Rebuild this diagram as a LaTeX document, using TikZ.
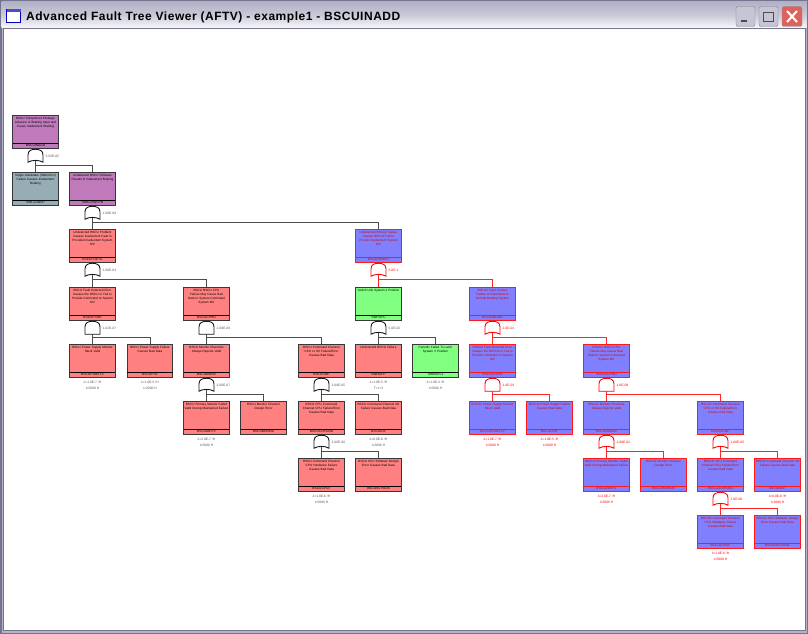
\documentclass[tikz,border=0pt]{standalone}
\usepackage{fontspec}
\setmainfont{Liberation Sans}
\newfontfamily\wintitle[LetterSpace=4.3]{Liberation Sans}
\usetikzlibrary{calc}
\definecolor{evred}{HTML}{FF8080}
\definecolor{evblue}{HTML}{8080FF}
\definecolor{evgreen}{HTML}{80FF80}
\definecolor{evpurple}{HTML}{C07ABC}
\definecolor{evgrey}{HTML}{97ADB5}
\definecolor{framedark}{HTML}{74748E}
\definecolor{framelight}{HTML}{B2B2C8}
\definecolor{closered}{HTML}{DC625C}
\tikzset{
  evbox/.style={draw=black!78,line width=1.1pt,minimum width=45.5,minimum height=33.5,inner sep=0,outer sep=0},
  evtitle/.style={anchor=north,yshift=-1.6,inner sep=0,text width=46,align=center,font=\fontsize{3.1}{4.1}\selectfont},
  evid/.style={anchor=south,inner sep=0,minimum width=45.5,minimum height=5.5,font=\fontsize{3.3}{4}\selectfont},
  redev/.style={fill=evred},
  blueev/.style={fill=evblue,draw=red!90,text=red!80!black},
  greenev/.style={fill=evgreen},
  purpleev/.style={fill=evpurple},
  greyev/.style={fill=evgrey},
  wire/.style={draw=black!70,line width=0.9pt},
  gatel/.style={draw=black!90,fill=white,line width=0.9pt},
  gatelab/.style={anchor=west,inner sep=0,text=black!65,font=\fontsize{3.3}{4}\selectfont},
  rate/.style={inner sep=0,text=black!65,font=\fontsize{3.3}{4}\selectfont},
  redon/.style={draw=red,text=red},
}
% one event: name, centre x, top y, colours, text, id
\newcommand{\ftevent}[6]{
  \node[evbox,#4] (#1) at (#2-0.5,#3+17) {};
  \node[evtitle,#4,draw=none,fill=none] (#1t) at (#1.north) {#5};
  \node[evid,#4,draw=none,fill=none] (#1i) at (#1.south) {#6};
  \draw[#4,fill=none,line width=0.6pt] (#1i.north west) -- (#1i.north east);
}
% rates below a basic event
\newcommand{\ftrate}[4]{
  \node[rate,#4] (#1r) at ($(#1.south)+(0,5)$) {#2};
  \node[rate,#4] (#1h) at ($(#1.south)+(0,10.5)$) {#3};
}
\newcommand{\ftwire}[3]{
  \draw[wire,#3] (#1.south) -- ($(#1.south)+(0,17)$) -| (#2.north);
}
\newcommand{\orgate}[4]{
  \coordinate (#1) at (#2.south);
  \draw[gatel,#3] ($(#1)+(-7.5,13.5)$) -- ($(#1)+(-7.5,6)$) .. controls ($(#1)+(-7.5,2)$) and ($(#1)+(-4,0.5)$) .. ($(#1)+(0,0.5)$) .. controls ($(#1)+(4,0.5)$) and ($(#1)+(7.5,2)$) .. ($(#1)+(7.5,6)$) -- ($(#1)+(7.5,13.5)$) .. controls ($(#1)+(4,11)$) and ($(#1)+(-4,11)$) .. cycle;
  \node[gatelab,#3,draw=none] (#1l) at ($(#1)+(10,8)$) {#4};
}
\newcommand{\andgate}[4]{
  \coordinate (#1) at (#2.south);
  \draw[gatel,#3] ($(#1)+(-7.5,13.5)$) -- ($(#1)+(-7.5,6)$) .. controls ($(#1)+(-7.5,2)$) and ($(#1)+(-4,0.5)$) .. ($(#1)+(0,0.5)$) .. controls ($(#1)+(4,0.5)$) and ($(#1)+(7.5,2)$) .. ($(#1)+(7.5,6)$) -- ($(#1)+(7.5,13.5)$) -- cycle;
  \node[gatelab,#3,draw=none] (#1l) at ($(#1)+(10,8)$) {#4};
}
\begin{document}
\begin{tikzpicture}[x=1pt,y=-1pt]
  \useasboundingbox (0,0) rectangle (808,634);
  % window
  \fill[framedark] (0,0) rectangle (808,634);
  \fill[framelight] (1.5,1.5) rectangle (806.5,632.5);
  \shade[top color=framelight,bottom color=white!92!framelight,middle color=framelight!70] (1.5,2) rectangle (806.5,28);
  \fill[framedark] (3,28) rectangle (805.5,631);
  \fill[white] (4,29) rectangle (804.5,630);
  \node[anchor=west,inner sep=0,font=\wintitle\bfseries\fontsize{12}{14}\selectfont,text=black] (wintext) at (26,17) {Advanced Fault Tree Viewer (AFTV) - example1 - BSCUINADD};
  \draw[blue!70!black,fill=white,line width=0.8pt] (6.5,9.5) rectangle (20.5,22);
  \fill[blue!70!black!70] (6.5,9.5) rectangle (20.5,12);
  \draw[black!50,fill=framelight!75,rounded corners=2pt] (736,6.5) rectangle (755,26.5);
  \draw[black!50,fill=framelight!75,rounded corners=2pt] (759,6.5) rectangle (778,26.5);
  \draw[black!40,fill=closered,rounded corners=2pt] (782,6.5) rectangle (802,26.5);
  \fill[black!70] (741,20) rectangle (747,22);
  \draw[black!70,line width=1pt] (763.5,12.5) rectangle (773.5,22);
  \draw[white,line width=2pt] (787,11) -- (797,22) (797,11) -- (787,22);
  % events, left part
  \ftevent{root}{36}{115}{purpleev}{BSCU Component Package\\Advance of Braking Input and\\Cause Inadvertent Braking}{BSCUINADD}
  \ftevent{swcl}{36}{172}{greyev}{Single Autobrake (SBU/SCU)\\Failure Causes Inadvertent\\Braking}{SWCLUNDP}
  \ftevent{swtp}{93}{172}{purpleev}{Undetected BSCU Software\\Results in Inadvertent Braking}{SWCLSWTPB}
  \ftevent{fdet}{93}{229}{redev}{Undetected BSCU Problem\\Causes Inadvertent Fault in\\Provided Inadvertent System\\MV}{BSCUFDETD}
  \ftevent{fshd}{93}{287}{redev}{BSCU Fault Detected Error\\Causes the BSCU to Fail to\\Provide Command to System\\MV}{BSCUFSHD}
  \ftevent{cphd}{207}{287}{redev}{BSCU BSCU CPU\\Failure May Cause Bad\\Data to System Command\\System MV}{BSCUCPHD}
  \ftevent{psmv}{93}{344}{redev}{BSCU Power Supply Monitor\\Stuck Valid}{BSCUPSMSTV}
  \ftevent{psf}{150.5}{344}{redev}{BSCU Power Supply Failure\\Causes Bad Data}{BSCUPSF}
  \ftevent{monv}{207}{344}{redev}{BSCU Monitor Channels\\Always Reports Valid}{BSCUMONV}
  \ftevent{cmf}{322}{344}{redev}{BSCU Command Channel\\CPU or I/O Failure/Error\\Causes Bad Data}{BSCUCMF}
  \ftevent{mcfv}{207}{401}{redev}{BSCU Primary Monitor Failed\\Valid During Maintained Failure}{BSCUMCFV}
  \ftevent{mode}{264}{401}{redev}{BSCU Monitor Channel\\Design Error}{BSCUMONDE}
  \ftevent{cpbd}{322}{401}{redev}{BSCU CPU Command\\Channel CPU Failure/Error\\Causes Bad Data}{BSCUCOPUBD}
  \ftevent{iof}{379}{401}{redev}{BSCU Command Channel I/O\\Failure Causes Bad Data}{BSCUIOF}
  \ftevent{cpuf}{322}{458}{redev}{BSCU Command Channel\\CPU Hardware Failure\\Causes Bad Data}{BSCUCPUF}
  \ftevent{scde}{379}{458}{redev}{BSCU CPU Software Design\\Error Causes Bad Data}{BSCUSCPUDE}
  % events, middle part
  \ftevent{swfd}{379}{229}{blueev}{Undetected BSCU2 Failure\\Causes BSCU2 Fail to\\Provide Inadvertent System\\MV}{BSCU2SWFD}
  \ftevent{swfo}{379}{287}{greenev}{Switch Unit System 2 Position}{SWFOFC}
  \ftevent{swdu}{379}{344}{redev}{Undetected BSCU Failure}{SWDUFP}
  \ftevent{swsa}{436}{344}{greenev}{Periodic Failed To Latch\\System 2 Position}{SWSAFL1}
  % events, right part
  \ftevent{bcmd}{493}{287}{blueev}{BSCU2 Fault Causes\\Failure to Command to\\Normal Braking System}{BSCU2BCMD}
  \ftevent{bfsh}{493}{344}{blueev}{BSCU2 Fault Detected Error\\Causes the BSCU2 to Fail to\\Provide Command to System\\MV}{BSCU2FSHD}
  \ftevent{bcph}{607}{344}{blueev}{BSCU2 BSCU CPU\\Failure May Cause Bad\\Data to System Command\\System MV}{BSCU2CPHD}
  \ftevent{bpsm}{493}{401}{blueev}{BSCU2 Power Supply Monitor\\Stuck Valid}{BSCU2PSMSTV}
  \ftevent{bpsf}{550}{401}{blueev}{BSCU2 Power Supply Failure\\Causes Bad Data}{BSCU2PSF}
  \ftevent{bmon}{607}{401}{blueev}{BSCU2 Monitor Channels\\Always Reports Valid}{BSCU2MONV}
  \ftevent{bcmf}{721}{401}{blueev}{BSCU2 Command Channel\\CPU or I/O Failure/Error\\Causes Bad Data}{BSCU2CMF}
  \ftevent{bmcf}{607}{458}{blueev}{BSCU2 Primary Monitor Failed\\Valid During Maintained Failure}{BSCU2MCFV}
  \ftevent{bmde}{664}{458}{blueev}{BSCU2 Monitor Channel\\Design Error}{BSCU2MONDE}
  \ftevent{bcpb}{721}{458}{blueev}{BSCU2 CPU Command\\Channel CPU Failure/Error\\Causes Bad Data}{BSCU2COPUBD}
  \ftevent{biof}{778}{458}{blueev}{BSCU2 Command Channel I/O\\Failure Causes Bad Data}{BSCU2IOF}
  \ftevent{bcpu}{721}{515}{blueev}{BSCU2 Command Channel\\CPU Hardware Failure\\Causes Bad Data}{BSCU2CPUF}
  \ftevent{bscd}{778}{515}{blueev}{BSCU2 CPU Software Design\\Error Causes Bad Data}{BSCU2SCPUDE}
  % rates
  \ftrate{psmv}{λ=1.0E-7 /H}{t=5000 H}{}
  \ftrate{psf}{λ=1.0E-5 /H}{t=2000 H}{}
  \ftrate{mcfv}{λ=2.0E-7 /H}{t=5000 H}{}
  \ftrate{iof}{λ=6.0E-6 /H}{t=2000 H}{}
  \ftrate{cpuf}{λ=1.0E-6 /H}{t=5000 H}{}
  \ftrate{swdu}{λ=1.0E-5 /H}{T=1 H}{}
  \ftrate{swsa}{λ=1.0E-4 /H}{t=5000 H}{}
  \ftrate{bpsm}{λ=1.0E-7 /H}{t=5000 H}{redon,draw=none}
  \ftrate{bpsf}{λ=1.0E-5 /H}{t=2000 H}{redon,draw=none}
  \ftrate{bmcf}{λ=2.0E-7 /H}{t=5000 H}{redon,draw=none}
  \ftrate{biof}{λ=6.0E-6 /H}{t=2000 H}{redon,draw=none}
  \ftrate{bcpu}{λ=1.0E-6 /H}{t=5000 H}{redon,draw=none}
  % connectors
  \ftwire{root}{swcl}{}
  \ftwire{root}{swtp}{}
  \ftwire{swtp}{fdet}{}
  \ftwire{swtp}{swfd}{}
  \ftwire{fdet}{fshd}{}
  \ftwire{fdet}{cphd}{}
  \ftwire{fshd}{psmv}{}
  \ftwire{fshd}{psf}{}
  \ftwire{cphd}{monv}{}
  \ftwire{cphd}{cmf}{}
  \ftwire{monv}{mcfv}{}
  \ftwire{monv}{mode}{}
  \ftwire{cmf}{cpbd}{}
  \ftwire{cmf}{iof}{}
  \ftwire{cpbd}{cpuf}{}
  \ftwire{cpbd}{scde}{}
  \ftwire{swfo}{swdu}{}
  \ftwire{swfo}{swsa}{}
  \ftwire{swfd}{swfo}{draw=red!85}
  \ftwire{swfd}{bcmd}{draw=red!85}
  \ftwire{bcmd}{bfsh}{draw=red!85}
  \ftwire{bcmd}{bcph}{draw=red!85}
  \ftwire{bfsh}{bpsm}{draw=red!85}
  \ftwire{bfsh}{bpsf}{draw=red!85}
  \ftwire{bcph}{bmon}{draw=red!85}
  \ftwire{bcph}{bcmf}{draw=red!85}
  \ftwire{bmon}{bmcf}{draw=red!85}
  \ftwire{bmon}{bmde}{draw=red!85}
  \ftwire{bcmf}{bcpb}{draw=red!85}
  \ftwire{bcmf}{biof}{draw=red!85}
  \ftwire{bcpb}{bcpu}{draw=red!85}
  \ftwire{bcpb}{bscd}{draw=red!85}
  % gates
  \orgate{groot}{root}{}{3.50E-05}
  \orgate{gswtp}{swtp}{}{1.00E-09}
  \orgate{gfdet}{fdet}{}{1.00E-03}
  \andgate{gfshd}{fshd}{}{1.01E-07}
  \andgate{gcphd}{cphd}{}{1.00E-09}
  \orgate{gmonv}{monv}{}{3.00E-07}
  \orgate{gcmf}{cmf}{}{3.00E-05}
  \orgate{gcpbd}{cpbd}{}{2.00E-06}
  \orgate{gswfo}{swfo}{}{5.0E-02}
  \orgate{gswfd}{swfd}{draw=red,text=red}{5.0E-1}
  \orgate{gbcmd}{bcmd}{draw=red,text=red}{2.0E-01}
  \andgate{gbfsh}{bfsh}{draw=red,text=red}{1.0E-03}
  \andgate{gbcph}{bcph}{draw=red,text=red}{1.0E-09}
  \orgate{gbmon}{bmon}{draw=red,text=red}{2.00E-02}
  \orgate{gbcmf}{bcmf}{draw=red,text=red}{1.00E-05}
  \orgate{gbcpb}{bcpb}{draw=red,text=red}{2.0E-06}
\end{tikzpicture}
\end{document}
